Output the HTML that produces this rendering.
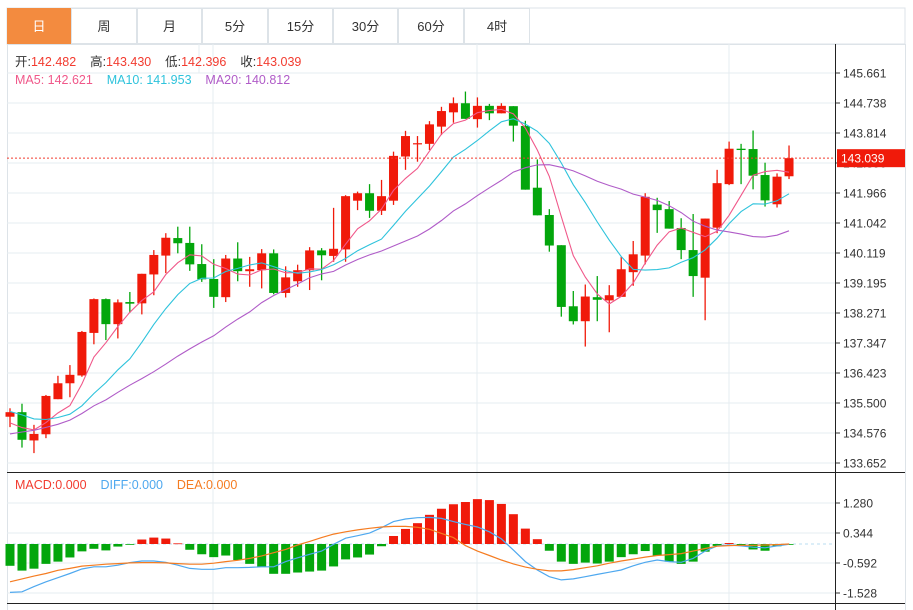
<!DOCTYPE html>
<html><head><meta charset="utf-8"><style>
body{margin:0;background:#fff;width:913px;height:610px;overflow:hidden;font-family:"Liberation Sans","Noto Sans CJK SC",sans-serif}
svg{position:absolute;left:0;top:0}
</style></head><body>
<svg id="c" width="913" height="610"></svg>
<script>
const tabs=["日","周","月","5分","15分","30分","60分","4时"];
const yTicks=["145.661","144.738","143.814","142.890","141.966","141.042","140.119","139.195","138.271","137.347","136.423","135.500","134.576","133.652"];
const macdTicks=["1.280","0.344","-0.592","-1.528"];
const opens=[135.08,135.22,134.35,134.54,135.62,136.11,136.35,137.66,138.70,137.93,138.61,138.57,139.46,140.04,140.58,140.43,139.78,139.32,138.76,139.95,139.56,139.59,140.11,138.89,139.25,139.59,140.20,140.03,140.23,141.73,141.96,141.42,141.73,143.09,143.47,143.48,144.01,144.45,144.73,144.24,144.65,144.42,144.64,144.03,142.13,141.29,140.36,138.48,138.02,138.76,138.66,138.77,139.53,140.04,141.61,141.47,140.89,140.21,139.36,140.90,142.24,143.33,143.32,142.52,141.62,142.482];
const highs=[135.34,135.48,134.83,135.75,136.34,136.67,137.72,138.72,138.72,138.69,138.92,139.48,140.21,140.73,140.93,140.93,140.39,139.93,140.06,140.45,140.00,140.24,140.23,139.71,139.76,140.30,140.27,141.51,141.90,142.01,142.24,142.37,143.24,143.88,143.72,144.18,144.62,144.91,145.09,144.91,144.71,144.73,144.64,144.19,143.00,141.47,140.36,138.95,139.15,139.41,139.13,140.00,140.49,141.96,141.82,141.72,141.19,141.32,141.18,142.68,143.55,143.48,143.89,142.90,142.57,143.430];
const lows=[134.76,134.13,133.96,134.42,135.62,135.68,136.31,137.31,137.44,137.49,138.28,138.23,138.82,139.50,140.11,139.57,139.23,138.43,138.61,139.25,139.08,139.03,138.85,138.75,139.08,138.98,139.28,139.85,139.85,141.44,141.20,141.29,141.60,142.68,142.93,143.29,143.75,144.13,144.25,143.98,144.21,144.42,143.55,142.07,141.28,140.16,138.16,137.92,137.24,138.02,137.68,138.77,139.11,139.77,140.74,140.87,139.93,138.77,138.05,140.73,142.21,142.24,142.08,141.55,141.52,142.396];
const closes=[135.22,134.37,134.55,135.72,136.11,136.37,137.69,138.70,137.93,138.60,138.56,139.48,140.06,140.59,140.42,139.77,139.31,138.77,139.95,139.56,139.62,140.11,138.89,139.37,139.59,140.20,140.05,140.25,141.87,141.96,141.42,141.87,143.11,143.72,143.50,144.08,144.49,144.73,144.25,144.65,144.42,144.65,144.04,142.07,141.28,140.35,138.46,138.02,138.78,138.68,138.82,139.62,140.08,141.85,141.44,140.87,140.21,139.41,141.18,142.27,143.33,143.29,142.50,141.74,142.47,143.039];
const priorCloses=[133.2,133.5,133.9,134.2,133.8,133.6,134.0,134.3,133.9,134.2,135.4,135.8,135.9,135.5,135.35,135.1,134.9,134.6,134.63];
const macdHist=[-0.68,-0.83,-0.77,-0.62,-0.55,-0.42,-0.23,-0.15,-0.20,-0.08,-0.02,0.14,0.20,0.17,0.02,-0.18,-0.32,-0.41,-0.36,-0.50,-0.62,-0.72,-0.93,-0.93,-0.89,-0.86,-0.83,-0.70,-0.48,-0.42,-0.33,-0.07,0.25,0.47,0.65,0.91,1.10,1.24,1.31,1.40,1.37,1.25,0.93,0.48,0.15,-0.21,-0.55,-0.62,-0.58,-0.61,-0.55,-0.41,-0.32,-0.22,-0.36,-0.55,-0.62,-0.55,-0.24,-0.06,0.03,-0.06,-0.17,-0.21,-0.07,-0.01];
const diffVals=[-1.51,-1.49,-1.33,-1.18,-1.05,-0.92,-0.78,-0.71,-0.71,-0.66,-0.58,-0.53,-0.53,-0.57,-0.66,-0.76,-0.79,-0.79,-0.74,-0.74,-0.73,-0.71,-0.71,-0.55,-0.43,-0.32,-0.22,-0.01,0.18,0.26,0.34,0.51,0.70,0.78,0.82,0.83,0.80,0.70,0.61,0.53,0.38,0.16,-0.19,-0.55,-0.81,-1.02,-1.12,-1.09,-1.02,-0.95,-0.88,-0.81,-0.68,-0.57,-0.50,-0.55,-0.57,-0.45,-0.22,-0.06,-0.03,-0.06,-0.10,-0.12,-0.06,-0.01];
const deaVals=[-1.18,-1.09,-1.00,-0.92,-0.82,-0.76,-0.69,-0.66,-0.63,-0.61,-0.59,-0.58,-0.58,-0.59,-0.61,-0.63,-0.63,-0.60,-0.55,-0.51,-0.45,-0.37,-0.27,-0.17,-0.03,0.08,0.20,0.31,0.38,0.44,0.49,0.53,0.55,0.55,0.52,0.46,0.33,0.20,-0.05,-0.22,-0.36,-0.50,-0.62,-0.72,-0.79,-0.84,-0.84,-0.80,-0.74,-0.68,-0.60,-0.53,-0.47,-0.41,-0.36,-0.33,-0.30,-0.22,-0.14,-0.07,-0.05,-0.04,-0.04,-0.03,-0.02,0.00];

const NS="http://www.w3.org/2000/svg";
const svg=document.getElementById('c');
function mk(tag,attrs,parent){const e=document.createElementNS(NS,tag);for(const k in attrs)e.setAttribute(k,attrs[k]);(parent||svg).appendChild(e);return e;}
const xOf=i=>10+i*11.985;
const yP=p=>73+(145.661-p)/0.9235*30;
const yM=v=>544-v/0.936*30;

// tabs
const tabW=[7,71,137,202,268,333,398,464,530];
mk('rect',{x:7,y:8,width:898,height:36,fill:'#fff',stroke:'#dde3e8'});
tabs.forEach((t,i)=>{
  const g=mk('g',{});
  
  
  mk('rect',{x:tabW[i]+0.5,y:8.5,width:tabW[i+1]-tabW[i]-1,height:35,fill:i==0?'#f38b3f':'#fff',stroke:i==0?'#f38b3f':'#dde3e8'},g);
  const tx=mk('text',{x:(tabW[i]+tabW[i+1])/2,y:31,'text-anchor':'middle','font-size':13,fill:i==0?'#fff':'#333'},g);
  tx.textContent=t;
});
// borders
mk('line',{x1:905.5,y1:44,x2:905.5,y2:610,stroke:'#dde3e8'});
mk('line',{x1:7.5,y1:44,x2:7.5,y2:610,stroke:'#dde3e8'});
mk('line',{x1:7,y1:44.5,x2:905,y2:44.5,stroke:'#dde3e8'});
// grid
yTicks.forEach((t,k)=>{const y=73+30*k;mk('line',{x1:7,y1:y,x2:835,y2:y,stroke:'#e6ecf0'});mk('line',{x1:835,y1:y,x2:840,y2:y,stroke:'#333'});
  const tx=mk('text',{x:843,y:y+4.5,'font-size':12,fill:'#333'});tx.textContent=t;});
macdTicks.forEach((t,k)=>{const y=503+30*k;mk('line',{x1:7,y1:y,x2:835,y2:y,stroke:'#e6ecf0'});mk('line',{x1:835,y1:y,x2:840,y2:y,stroke:'#333'});
  const tx=mk('text',{x:843,y:y+4.5,'font-size':12,fill:'#333'});tx.textContent=t;});
[213,477,729].forEach(x=>mk('line',{x1:x,y1:44,x2:x,y2:610,stroke:'#e6ecf0'}));
mk('line',{x1:597/3,y1:44,x2:597/3,y2:73,stroke:'#e6ecf0'});
mk('line',{x1:7,y1:472.5,x2:905,y2:472.5,stroke:'#222'});
mk('line',{x1:7,y1:603.5,x2:905,y2:603.5,stroke:'#222'});
mk('line',{x1:835.5,y1:44,x2:835.5,y2:610,stroke:'#222'});

// header texts
function hdr(parts,y,name){const t=mk('text',{x:15,y:y,'font-size':12.5});
  parts.forEach(([s,c])=>{const ts=mk('tspan',{fill:c},t);ts.textContent=s;});}
hdr([["开:","#333"],["142.482  ","#f23b2f"],["  高:","#333"],["143.430  ","#f23b2f"],["  低:","#333"],["142.396  ","#f23b2f"],["  收:","#333"],["143.039","#f23b2f"]],66,'ohlc-legend');
hdr([["MA5: 142.621    ","#f0588a"],["MA10: 141.953    ","#2ec3dc"],["MA20: 140.812","#b05cc8"]],84,'ma-legend');
hdr([["MACD:0.000    ","#f23b2f"],["DIFF:0.000    ","#4ea8ef"],["DEA:0.000","#f57c21"]],489,'macd-legend');
svg.querySelectorAll('text tspan').forEach(ts=>ts.setAttribute('xml:space','preserve'));
svg.querySelectorAll('text').forEach(t=>t.setAttribute('style','white-space:pre'));

// candles
const cg=mk('g',{});
opens.forEach((o,i)=>{
  const c=closes[i],x=xOf(i),up=c>=o,col=up?'#f01a0a':'#03a60c';
  const g=mk('g',{},cg);
  
  
  mk('line',{x1:x,y1:yP(highs[i]),x2:x,y2:yP(lows[i]),stroke:col,'stroke-width':1.3},g);
  const t=yP(Math.max(o,c)),b=yP(Math.min(o,c));
  mk('rect',{x:x-4.5,y:t,width:9,height:Math.max(1.2,b-t),fill:col},g);
});
// MA lines
const all=priorCloses.concat(closes);
function ma(n){return closes.map((_,i)=>{const j=i+priorCloses.length;let s=0;for(let k=j-n+1;k<=j;k++)s+=all[k];return s/n;});}
[[5,'#f0588a','ma5-line'],[10,'#2ec3dc','ma10-line'],[20,'#b05cc8','ma20-line']].forEach(([n,col,name])=>{
  const pts=ma(n).map((v,i)=>xOf(i).toFixed(1)+','+yP(v).toFixed(1)).join(' ');
  const p=mk('polyline',{points:pts,fill:'none',stroke:col,'stroke-width':1.1});
  
});
// last price line
const ly=yP(closes[closes.length-1]);
mk('line',{x1:7,y1:ly,x2:835,y2:ly,stroke:'#f23b2f','stroke-dasharray':'2,2','stroke-width':1});
const lb=mk('g',{});
mk('rect',{x:837,y:ly-9,width:68,height:18,fill:'#f01a0a'},lb);
const lt=mk('text',{x:841,y:ly+4.5,'font-size':12,fill:'#fff'},lb);lt.textContent=closes[closes.length-1].toFixed(3);

// MACD
mk('line',{x1:7,y1:544,x2:835,y2:544,stroke:'#b9dcf2','stroke-dasharray':'3,3'});
const hg=mk('g',{});
macdHist.forEach((v,i)=>{const y0=yM(0),y1=yM(v);
  const r=mk('rect',{x:xOf(i)-4.5,y:Math.min(y0,y1),width:9,height:Math.max(0.8,Math.abs(y1-y0)),fill:v>=0?'#f01a0a':'#03a60c'},hg);
  });
[[diffVals,'#4ea8ef','diff-line'],[deaVals,'#f57c21','dea-line']].forEach(([arr,col,name])=>{
  const p=mk('polyline',{points:arr.map((v,i)=>xOf(i).toFixed(1)+','+yM(v).toFixed(1)).join(' '),fill:'none',stroke:col,'stroke-width':1.2});
  
});
</script>
</body></html>
